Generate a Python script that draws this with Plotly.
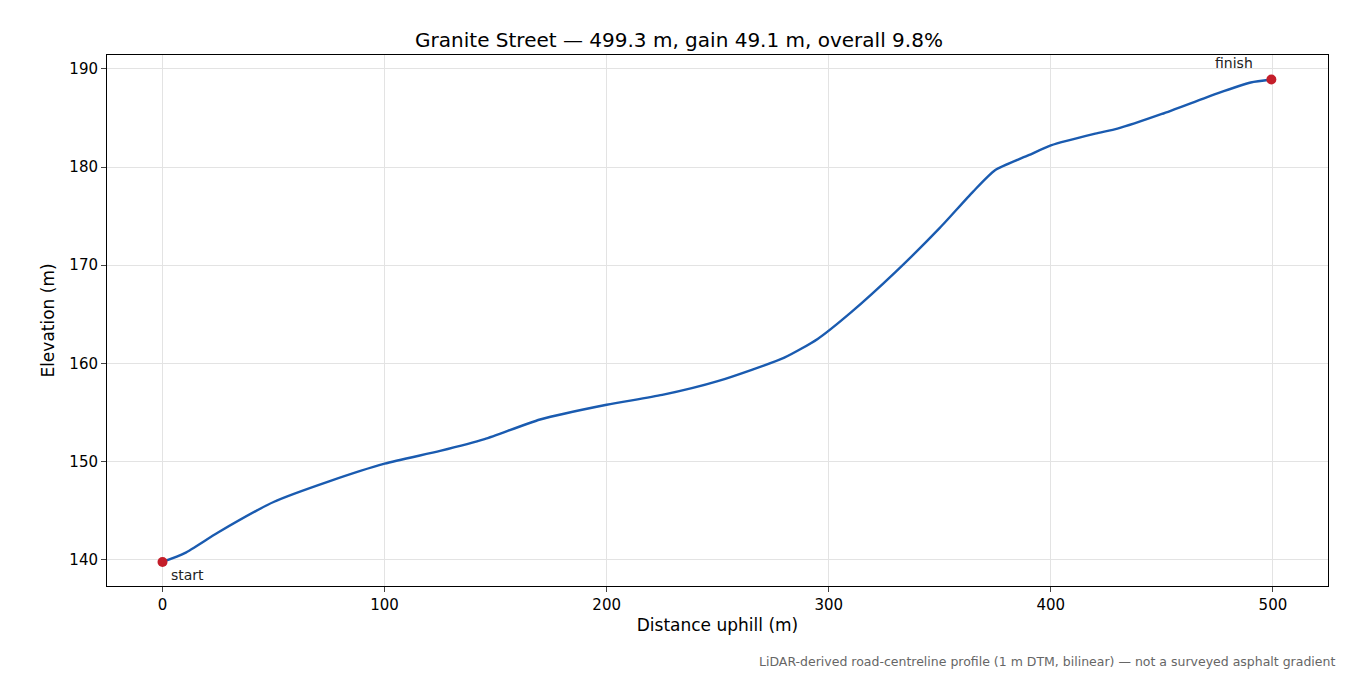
import plotly.graph_objects as go

# profile
distance_m = [0, 10, 25, 50, 75, 100, 125, 145, 170, 200, 225, 250, 280, 295,
              310, 330, 350, 365, 375, 390, 400, 420, 430, 450, 475, 490, 499.3]
elevation_m = [139.8, 140.7, 142.8, 145.9, 148.0, 149.8, 151.1, 152.3, 154.3, 155.8,
               156.8, 158.2, 160.6, 162.5, 165.2, 169.3, 173.8, 177.5, 179.7, 181.2,
               182.2, 183.4, 183.9, 185.4, 187.5, 188.6, 188.9]

end_x = [distance_m[0], distance_m[-1]]
end_y = [elevation_m[0], elevation_m[-1]]
end_labels = ["start", "finish"]

fig = go.Figure()
fig.add_trace(go.Scatter(x=distance_m, y=elevation_m, mode="lines",
                         line=dict(color="#1a5bb0", width=2.4, shape="spline", smoothing=0.6),
                         showlegend=False))
fig.add_trace(go.Scatter(x=end_x, y=end_y, mode="markers",
                         marker=dict(color="#c41e2a", size=10), showlegend=False))

fig.add_annotation(x=end_x[0], y=end_y[0], text=end_labels[0], showarrow=False,
                   xanchor="left", yanchor="top", xshift=6, yshift=-3,
                   font=dict(size=14, color="#222"))
fig.add_annotation(x=end_x[1], y=end_y[1], text=end_labels[1], showarrow=False,
                   xanchor="right", yanchor="bottom", xshift=-16, yshift=7,
                   font=dict(size=14, color="#222"))

# the page body adds an 8 px offset, so the figure is a little smaller than the window
fig.update_layout(
    width=1342, height=667,
    plot_bgcolor="white", paper_bgcolor="white",
    font=dict(family="DejaVu Sans", size=16, color="black"),
    margin=dict(l=99, r=22, t=47, b=89),
    title=dict(text="Granite Street — 499.3 m, gain 49.1 m, overall 9.8%",
               x=0.5, xanchor="center", y=0.962, font=dict(size=20)),
)
axis_style = dict(showline=True, linecolor="black", mirror=True, ticks="outside",
                  ticklen=5, showgrid=True, gridcolor="#e3e3e3", zeroline=False,
                  tickfont=dict(size=15))
fig.update_xaxes(range=[-25, 524.8], tickvals=[0, 100, 200, 300, 400, 500],
                 title=dict(text="Distance uphill (m)", standoff=6, font=dict(size=17)),
                 **axis_style)
fig.update_yaxes(range=[137.35, 191.4], tickvals=[140, 150, 160, 170, 180, 190],
                 title=dict(text="Elevation (m)", standoff=10, font=dict(size=17)),
                 **axis_style)

fig.add_annotation(xref="paper", yref="paper", x=1.007, y=-0.125, showarrow=False,
                   xanchor="right", yanchor="top",
                   text="LiDAR-derived road-centreline profile (1 m DTM, bilinear) — not a surveyed asphalt gradient",
                   font=dict(size=12.5, color="#666"))

fig.write_html("out.html")
